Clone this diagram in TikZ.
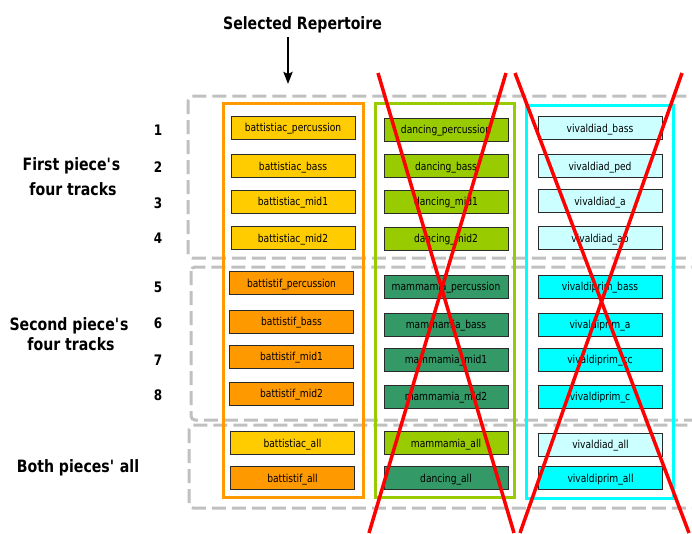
\documentclass[tikz,border=0pt]{standalone}
\usepackage{fontspec}
\setmainfont[FakeStretch=0.83]{DejaVu Sans}
\usetikzlibrary{arrows.meta}

\definecolor{sunyellow}{HTML}{FFCC00}
\definecolor{amber}{HTML}{FF9900}
\definecolor{lime}{HTML}{99CC00}
\definecolor{seagreen}{HTML}{339966}
\definecolor{palecyan}{HTML}{CCFFFF}
\definecolor{aqua}{HTML}{00FFFF}
\definecolor{gridgray}{HTML}{C0C0C0}
\definecolor{boxedge}{HTML}{2A2A2A}
\definecolor{crossred}{HTML}{FF0000}

\begin{document}
\begin{tikzpicture}[x=1pt,y=-1pt,
  track/.style={draw=boxedge, line width=0.8pt, minimum width=124pt,
    minimum height=23pt, inner sep=0pt, text height=9pt, text depth=1pt,
    font=\fontsize{11}{13}\selectfont},
  group/.style={draw=gridgray, line width=3pt, dash pattern=on 14pt off 6pt,
    rounded corners=4pt},
  column/.style={line width=3pt},
  cross/.style={draw=crossred, line width=3.5pt},
  heading/.style={font=\bfseries\fontsize{17}{20}\selectfont, anchor=base, inner sep=0pt},
  rownum/.style={font=\bfseries\fontsize{14.5}{16}\selectfont, anchor=base, inner sep=0pt}]

\useasboundingbox (0,0) rectangle (692,533);
\clip (0,0) rectangle (692,533);

% dashed row groups
\draw[group] (188,96) rectangle (730,258);
\draw[group] (191,267) rectangle (730,420);
\draw[group] (189,425) rectangle (730,508);

% repertoire columns
\draw[column, draw=amber] (223,103) rectangle (363,497);
\draw[column, draw=lime] (375.5,103) rectangle (514,497);
\draw[column, draw=aqua] (526,105) rectangle (673,498);

% title and arrow
\node[heading] (title) at (302.5,29) {Selected Repertoire};
\coordinate (arrowtail) at (288,37);
\coordinate (arrowtip) at (288,84);
\draw[line width=2.5pt, -{Stealth[length=12pt,width=9pt,inset=2pt]}] (arrowtail) -- (arrowtip);

% row labels
\node[heading] (firstA) at (71.5,170) {First piece\textquotesingle s};
\node[heading] (firstB) at (73,195) {four tracks};
\node[heading] (secondA) at (69,330) {Second piece\textquotesingle s};
\node[heading] (secondB) at (71,350) {four tracks};
\node[heading] (both) at (78,472) {Both pieces\textquotesingle{} all};

\node[rownum] (n1) at (158,135) {1};
\node[rownum] (n2) at (158,172) {2};
\node[rownum] (n3) at (158,208) {3};
\node[rownum] (n4) at (158,243) {4};
\node[rownum] (n5) at (158,292) {5};
\node[rownum] (n6) at (158,328) {6};
\node[rownum] (n7) at (158,365) {7};
\node[rownum] (n8) at (158,400) {8};

% first column
\node[track, fill=sunyellow] (bac1) at (293,127.5) {battistiac\_percussion};
\node[track, fill=sunyellow] (bac2) at (293,166) {battistiac\_bass};
\node[track, fill=sunyellow] (bac3) at (293,201.5) {battistiac\_mid1};
\node[track, fill=sunyellow] (bac4) at (293,238) {battistiac\_mid2};
\node[track, fill=amber] (baf1) at (291.5,283) {battistif\_percussion};
\node[track, fill=amber] (baf2) at (291.5,321.5) {battistif\_bass};
\node[track, fill=amber] (baf3) at (291.5,356.5) {battistif\_mid1};
\node[track, fill=amber] (baf4) at (291.5,393.5) {battistif\_mid2};
\node[track, fill=sunyellow] (bacall) at (292.5,443) {battistiac\_all};
\node[track, fill=amber] (bafall) at (292.5,478) {battistif\_all};

% second column
\node[track, fill=lime] (dan1) at (446,129.5) {dancing\_percussion};
\node[track, fill=lime] (dan2) at (446,166) {dancing\_bass};
\node[track, fill=lime] (dan3) at (446,201.5) {dancing\_mid1};
\node[track, fill=lime] (dan4) at (446,238.5) {dancing\_mid2};
\node[track, fill=seagreen] (mam1) at (446,286.5) {mammamia\_percussion};
\node[track, fill=seagreen] (mam2) at (446,324.5) {mammamia\_bass};
\node[track, fill=seagreen] (mam3) at (446,359.5) {mammamia\_mid1};
\node[track, fill=seagreen] (mam4) at (446,396.5) {mammamia\_mid2};
\node[track, fill=lime] (mamall) at (446,443) {mammamia\_all};
\node[track, fill=seagreen] (danall) at (446,478) {dancing\_all};

% third column
\node[track, fill=palecyan] (vad1) at (600,128) {vivaldiad\_bass};
\node[track, fill=palecyan] (vad2) at (600,166) {vivaldiad\_ped};
\node[track, fill=palecyan] (vad3) at (600,201) {vivaldiad\_a};
\node[track, fill=palecyan] (vad4) at (600,238) {vivaldiad\_ab};
\node[track, fill=aqua] (vpr1) at (600,286.5) {vivaldiprim\_bass};
\node[track, fill=aqua] (vpr2) at (600,324.5) {vivaldiprim\_a};
\node[track, fill=aqua] (vpr3) at (600,359.5) {vivaldiprim\_cc};
\node[track, fill=aqua] (vpr4) at (600,396.5) {vivaldiprim\_c};
\node[track, fill=palecyan] (vadall) at (600.5,444.5) {vivaldiad\_all};
\node[track, fill=aqua] (vprall) at (600.5,478) {vivaldiprim\_all};

% rejected repertoires
\draw[cross] (378,73) -- (514,533);
\draw[cross] (506,73) -- (369,533);
\draw[cross] (515,73) -- (689,533);
\draw[cross] (682,73) -- (520,533);
\end{tikzpicture}
\end{document}
